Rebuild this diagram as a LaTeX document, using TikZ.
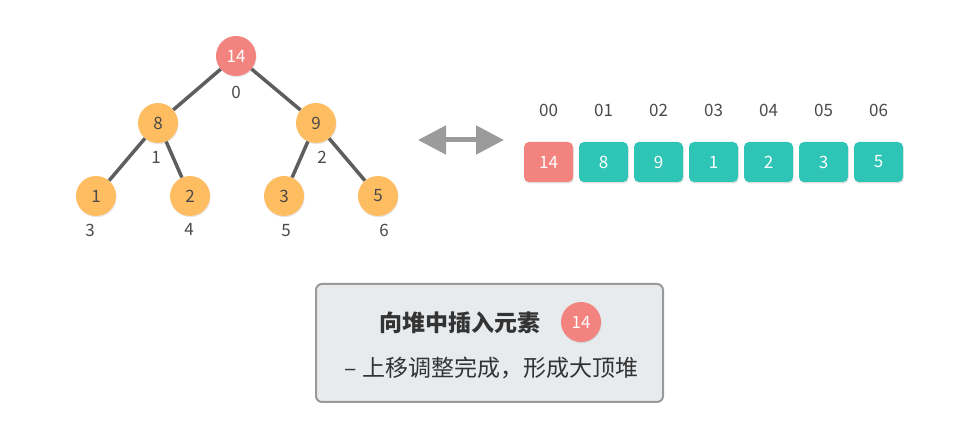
\documentclass[tikz,border=0pt]{standalone}
\usepackage{fontspec}
\setmainfont{Noto Sans CJK SC}
\usetikzlibrary{positioning,arrows.meta,shadows}

\definecolor{heapred}{HTML}{F2837F}
\definecolor{heaporange}{HTML}{FFBD62}
\definecolor{heapteal}{HTML}{2EC5B6}
\definecolor{edgegray}{HTML}{5E5E5E}
\definecolor{labelgray}{HTML}{4A4A4A}
\definecolor{panelfill}{HTML}{E8EBEE}
\definecolor{panelline}{HTML}{9A9A9A}
\definecolor{arrowgray}{HTML}{9B9B9B}

\tikzset{
  heapnode/.style={circle, minimum size=40pt, inner sep=0pt, fill=heaporange,
    text=labelgray, font=\fontsize{17}{17}\selectfont,
    drop shadow={opacity=0.2, shadow xshift=0.6pt, shadow yshift=-1.2pt}},
  newnode/.style={heapnode, fill=heapred, text=white},
  cell/.style={rectangle, rounded corners=5pt, minimum width=49pt, minimum height=40pt,
    inner sep=0pt, fill=heapteal, text=white, font=\fontsize{17}{17}\selectfont,
    drop shadow={opacity=0.25, shadow xshift=0.6pt, shadow yshift=-1.5pt}},
  idx/.style={text=labelgray, font=\fontsize{17}{17}\selectfont, inner sep=0pt},
  treeedge/.style={edgegray, line width=3.5pt}
}

\begin{document}
\begin{tikzpicture}[x=1pt,y=-1pt]

  \useasboundingbox (0,0) rectangle (980,443);

  % heap as tree
  \node[newnode]  (n0) at (236,56)  {14};
  \node[heapnode] (n1) at (158,123) {8};
  \node[heapnode] (n2) at (316,123) {9};
  \node[heapnode] (n3) at (96,196)  {1};
  \node[heapnode] (n4) at (190,196) {2};
  \node[heapnode] (n5) at (284,196) {3};
  \node[heapnode] (n6) at (378,196) {5};

  \foreach \a/\b in {n0/n1,n0/n2,n1/n3,n1/n4,n2/n5,n2/n6}
    \draw [treeedge] (\a) -- (\b);

  \foreach \i/\x/\y in {0/236/92,1/156/157,2/322/157,3/90/230,4/189/229,5/286/231,6/384/230}
    \node [idx] (t\i) at (\x,\y) {\i};

  % double arrow
  \coordinate (arrL) at (418,140);
  \coordinate (arrR) at (504,140);
  \draw [arrowgray, line width=5pt,
         {Triangle[length=28pt,width=28pt]}-{Triangle[length=28pt,width=28pt]}] (arrL) -- (arrR);

  % heap as array
  \node[cell, fill=heapred] (c0) at (548.5,162) {14};
  \foreach \v [count=\i] in {8,9,1,2,3,5}
    \node[cell] (c\i) at ({548.5+55*\i},162) {\v};

  \foreach \i in {0,...,6}
    \path (c\i.center) ++(0,-52) node [idx] (k\i) {0\i};

  % caption panel
  \node [draw=panelline, line width=2pt, fill=panelfill, rounded corners=6pt,
         minimum width=347pt, minimum height=118pt] (panel) at (489.5,343) {};
  \node [text=black!80, font=\fontsize{23}{23}\selectfont\bfseries] (title) at (460,323) {向堆中插入元素};
  \node [newnode] (newkey) at (581,322) {14};
  \node [text=black!80, font=\fontsize{23}{23}\selectfont] (subtitle) at (491.5,368) {– 上移调整完成，形成大顶堆};

\end{tikzpicture}
\end{document}
